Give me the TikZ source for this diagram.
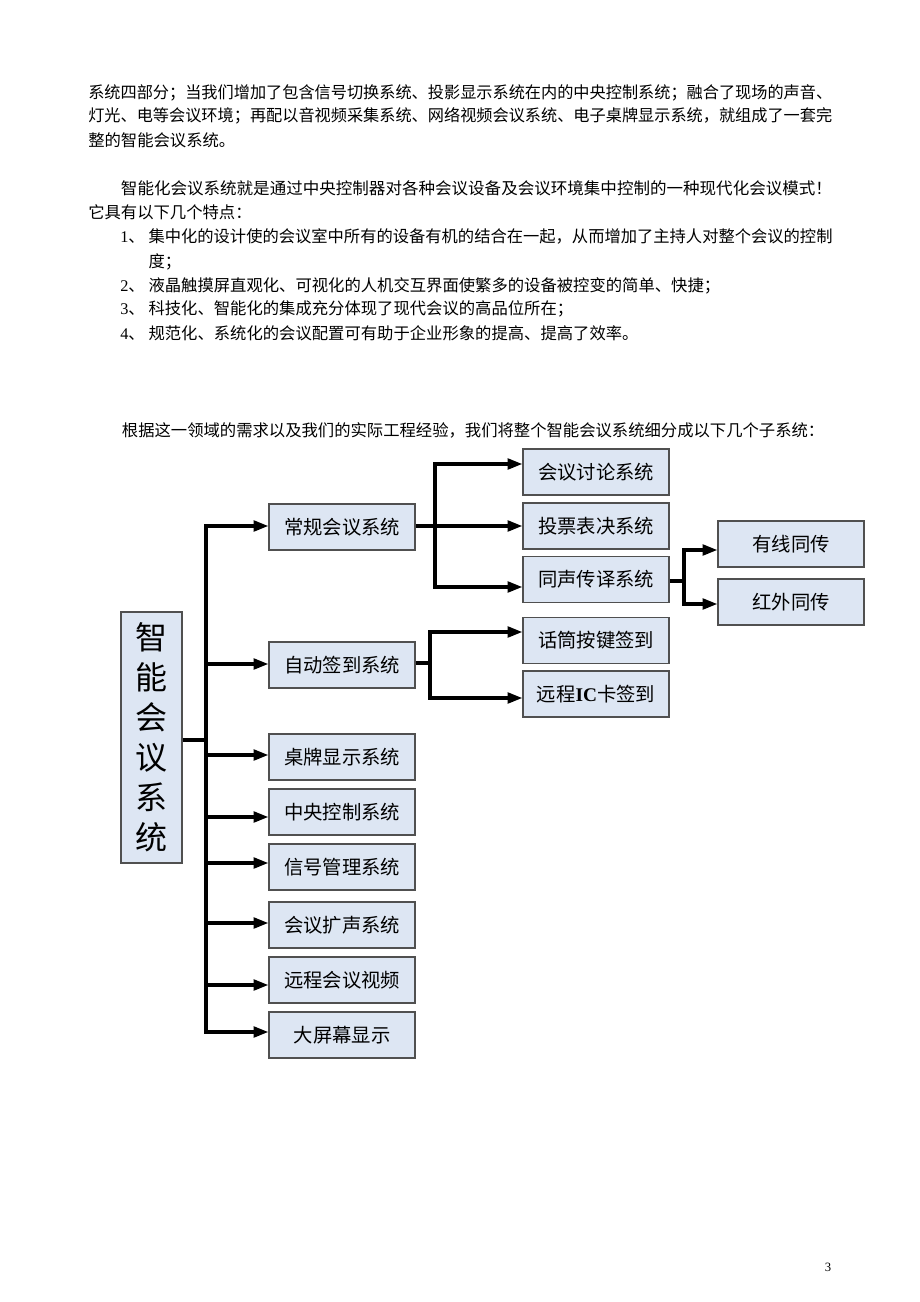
\documentclass[tikz,border=0pt]{standalone}
\usepackage{graphicx}
\usepackage{fontspec}
\setmainfont{Liberation Serif}
\newfontfamily\cjk{Noto Sans CJK SC}
\usetikzlibrary{arrows.meta}
\definecolor{boxfill}{RGB}{221,230,243}
\definecolor{boxline}{RGB}{80,80,80}
\newcommand\fitline[2]{\resizebox{#1}{\height}{#2}}
\begin{document}
\begin{tikzpicture}[x=0.75pt,y=-0.75pt,
  txt/.style={anchor=west,inner sep=0pt,font=\cjk\fontsize{12.25pt}{14pt}\selectfont,text height=10.8pt,text depth=1.5pt},
  box/.style={draw=boxline,fill=boxfill,line width=1pt,inner sep=0pt},
  sbox/.style={box,minimum width=109.5pt,minimum height=34.5pt,font=\cjk\fontsize{14.5pt}{17pt}\selectfont,text height=12.8pt,text depth=1.7pt},
  conn/.style={line width=2.3pt,line join=miter},
  arr/.style={conn,-{Triangle[length=11pt,width=8pt]}}]
\fill[white] (0,0) rectangle (920,1302);
\useasboundingbox (0,0) rectangle (920,1302);

% body text
\node[txt] (t1) at (88,92.5) {\fitline{558pt}{系统四部分；当我们增加了包含信号切换系统、投影显示系统在内的中央控制系统；融合了现场的声音、}};
\node[txt] (t2) at (88,115.5) {\fitline{558pt}{灯光、电等会议环境；再配以音视频采集系统、网络视频会议系统、电子桌牌显示系统，就组成了一套完}};
\node[txt] (t3) at (88,140) {整的智能会议系统。};
\node[txt] (t4) at (120.7,188.5) {\fitline{533.25pt}{智能化会议系统就是通过中央控制器对各种会议设备及会议环境集中控制的一种现代化会议模式！}};
\node[txt] (t5) at (88,212.5) {它具有以下几个特点：};
\node[txt] (n1) at (120,236.7) {{\rmfamily 1}、};
\node[txt] (l1) at (148.3,236.7) {\fitline{513pt}{集中化的设计使的会议室中所有的设备有机的结合在一起，从而增加了主持人对整个会议的控制}};
\node[txt] (l1b) at (148.3,261) {度；};
\node[txt] (n2) at (120,285) {{\rmfamily 2}、};
\node[txt] (l2) at (148.3,285) {液晶触摸屏直观化、可视化的人机交互界面使繁多的设备被控变的简单、快捷；};
\node[txt] (n3) at (120,308.5) {{\rmfamily 3}、};
\node[txt] (l3) at (148.3,308.5) {科技化、智能化的集成充分体现了现代会议的高品位所在；};
\node[txt] (n4) at (120,333) {{\rmfamily 4}、};
\node[txt] (l4) at (148.3,333) {规范化、系统化的会议配置可有助于企业形象的提高、提高了效率。};
\node[txt] (t6) at (121.7,430) {根据这一领域的需求以及我们的实际工程经验，我们将整个智能会议系统细分成以下几个子系统：};

% boxes
\node[box,minimum width=45.75pt,minimum height=188.25pt,font=\cjk\fontsize{24pt}{30pt}\selectfont,align=center] (main) at (151.5,737.5) {智\\能\\会\\议\\系\\统};
\node[sbox] (a1) at (342,527) {常规会议系统};
\node[sbox] (a2) at (342,665) {自动签到系统};
\node[sbox] (a3) at (342,757) {桌牌显示系统};
\node[sbox] (a4) at (342,812) {中央控制系统};
\node[sbox] (a5) at (342,867) {信号管理系统};
\node[sbox] (a6) at (342,925) {会议扩声系统};
\node[sbox] (a7) at (342,980) {远程会议视频};
\node[sbox] (a8) at (342,1035) {大屏幕显示};
\node[sbox] (b1) at (596,472) {会议讨论系统};
\node[sbox] (b2) at (596,526) {投票表决系统};
\node[sbox] (b3) at (596,579.5) {同声传译系统};
\node[sbox] (c1) at (596,640.5) {话筒按键签到};
\node[sbox] (c2) at (596,694) {远程{\rmfamily\bfseries IC}卡签到};
\node[sbox] (d1) at (791,544) {有线同传};
\node[sbox] (d2) at (791,602) {红外同传};

% trunk
\coordinate (j0) at (206,740);
\coordinate (k1) at (206,526);
\coordinate (k2) at (206,664);
\coordinate (k3) at (206,755);
\coordinate (k4) at (206,817);
\coordinate (k5) at (206,863);
\coordinate (k6) at (206,923);
\coordinate (k7) at (206,985);
\coordinate (k8) at (206,1032);
\draw[conn] (main.east |- j0) -- (j0);
\draw[arr] (k8) -- (k1) -- (k1 -| a1.west);
\draw[arr] (k1) -- (k8) -- (k8 -| a8.west);
\draw[arr] (k2) -- (k2 -| a2.west);
\draw[arr] (k3) -- (k3 -| a3.west);
\draw[arr] (k4) -- (k4 -| a4.west);
\draw[arr] (k5) -- (k5 -| a5.west);
\draw[arr] (k6) -- (k6 -| a6.west);
\draw[arr] (k7) -- (k7 -| a7.west);

% branch of 常规会议系统
\coordinate (u0) at (435,526);
\coordinate (u1) at (435,464);
\coordinate (u3) at (435,587);
\draw[arr] (a1.east |- u0) -- (u0 -| b2.west);
\draw[arr] (u3) -- (u1) -- (u1 -| b1.west);
\draw[arr] (u1) -- (u3) -- (u3 -| b3.west);

% branch of 自动签到系统
\coordinate (v0) at (430,663);
\coordinate (v1) at (430,632);
\coordinate (v2) at (430,698);
\draw[conn] (a2.east |- v0) -- (v0);
\draw[arr] (v2) -- (v1) -- (v1 -| c1.west);
\draw[arr] (v1) -- (v2) -- (v2 -| c2.west);

% branch of 同声传译系统
\coordinate (w0) at (684,581);
\coordinate (w1) at (684,550);
\coordinate (w2) at (684,604);
\draw[conn] (b3.east |- w0) -- (w0);
\draw[arr] (w2) -- (w1) -- (w1 -| d1.west);
\draw[arr] (w1) -- (w2) -- (w2 -| d2.west);

\node[inner sep=0pt,font=\fontsize{9.5pt}{10pt}\selectfont] (pg) at (828,1267) {3};
\end{tikzpicture}
\end{document}
